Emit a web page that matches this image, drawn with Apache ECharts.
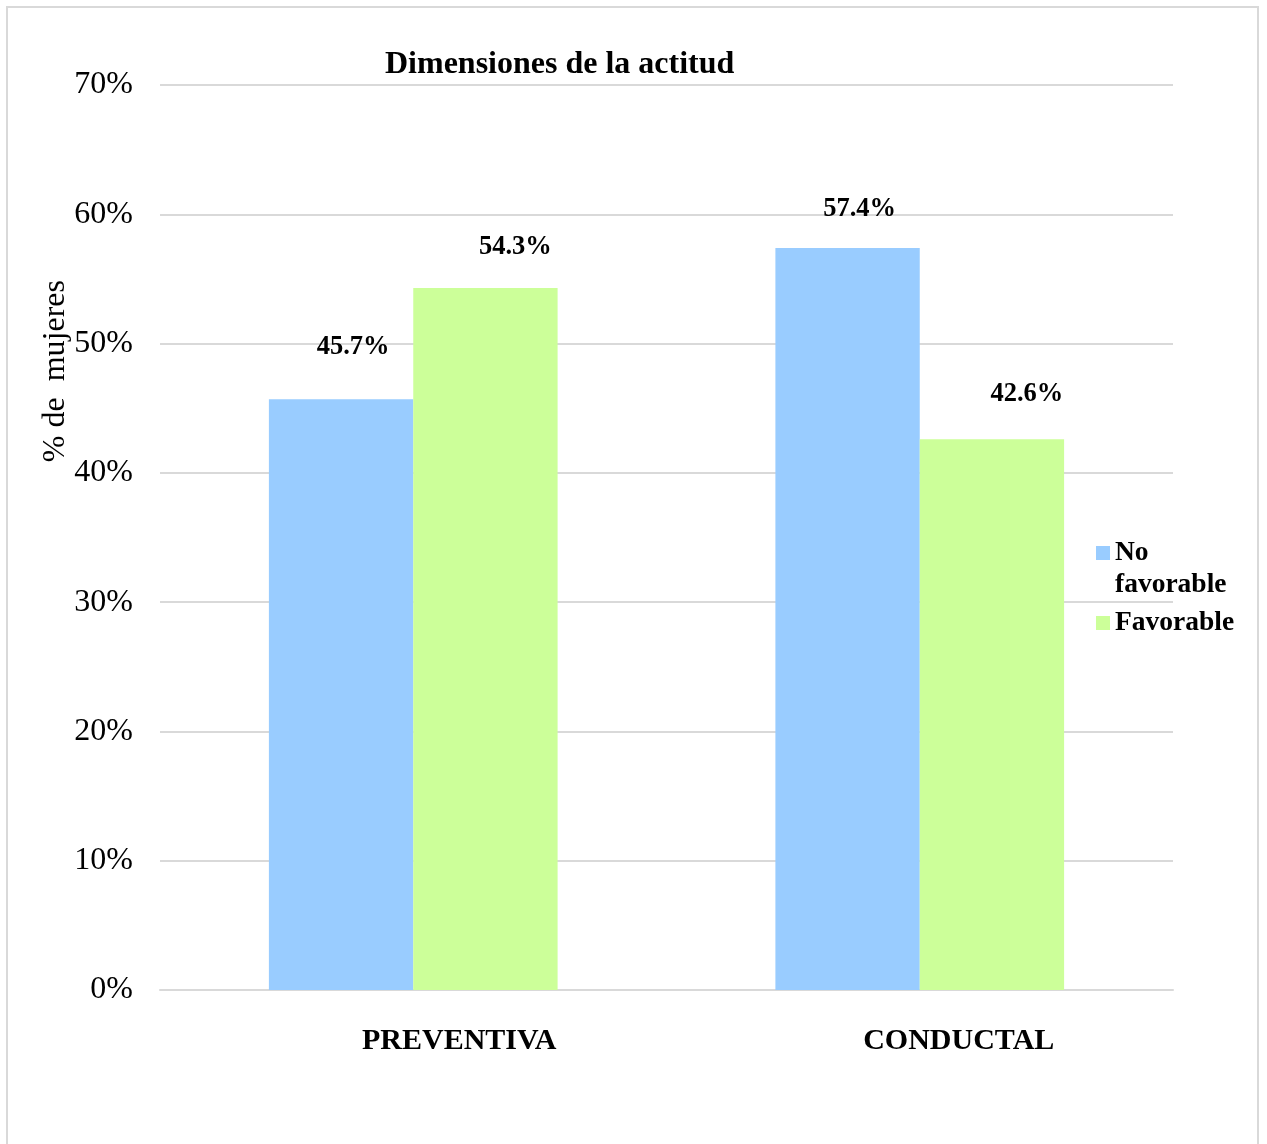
<!DOCTYPE html>
<html>
<head>
<meta charset="utf-8">
<script src="https://cdn.jsdelivr.net/npm/echarts@6/dist/echarts.min.js"></script>
<style>
html,body{margin:0;padding:0;background:#fff;}
#frame{position:absolute;left:6px;top:6px;width:1253px;height:1160px;border:2px solid #d9d9d9;box-sizing:border-box;}
#c{position:absolute;left:0;top:0;width:1267px;height:1144px;}
</style>
</head>
<body>
<div id="frame"></div>
<div id="c"></div>
<script>
const categories = ['PREVENTIVA', 'CONDUCTAL'];
const seriesNames = ['No favorable', 'Favorable'];
const noFavorable = [45.7, 57.4];
const favorable = [54.3, 42.6];
const yTicks = [0, 10, 20, 30, 40, 50, 60, 70];

// label nudges per series, per category
const labelOffsets = [[[12, -9], [12, 5]], [[30, 3], [35, -2]]];
const categoryLabelPad = [92, 78];
const colors = ['#99CCFF', '#CCFF99'];
const serif = '"Liberation Serif", "Times New Roman", serif';

function buildData(vals, si) {
  return vals.map((v, i) => ({ value: v, label: { offset: labelOffsets[si][i] } }));
}
const labelStyle = {
  show: true, position: 'top', distance: 30,
  formatter: p => p.value.toFixed(1) + '%',
  fontFamily: serif, fontWeight: 'bold', fontSize: 26.5, color: '#000'
};

const chart = echarts.init(document.getElementById('c'), null, { renderer: 'canvas' });
chart.setOption({
  animation: false,
  backgroundColor: 'transparent',
  title: {
    text: 'Dimensiones de la actitud',
    left: 380, top: 44,
    textStyle: { fontFamily: serif, fontWeight: 'bold', fontSize: 32, color: '#000' }
  },
  legend: {
    orient: 'vertical',
    left: 1096, top: 505,
    padding: 0,
    itemWidth: 14, itemHeight: 14, itemGap: 6,
    icon: 'rect',
    data: seriesNames,
    // wrapped name: a blank first line keeps the marker level with the first visible line
    formatter: n => n.indexOf(' ') >= 0 ? '\u00a0\n' + n.replace(' ', '\n') : n,
    textStyle: { fontFamily: serif, fontWeight: 'bold', fontSize: 27.5, color: '#000', lineHeight: 32 }
  },
  graphic: [{
    type: 'text',
    left: 40, top: 280,
    rotation: Math.PI / 2,
    style: { text: '% de  mujeres', font: '32px ' + serif, fill: '#000' }
  }],
  grid: { left: 160, right: 94, top: 85, bottom: 154 },
  xAxis: {
    type: 'category',
    data: categories.map((c, i) => ({ value: c, textStyle: { padding: [0, 0, 0, categoryLabelPad[i]] } })),
    axisLine: { lineStyle: { color: '#d9d9d9', width: 2 } },
    axisTick: { show: false },
    axisLabel: { fontFamily: serif, fontWeight: 'bold', fontSize: 30, color: '#000', margin: 36 }
  },
  yAxis: {
    type: 'value',
    min: yTicks[0], max: yTicks[yTicks.length - 1], interval: 10,
    axisLine: { show: false },
    axisTick: { show: false },
    splitLine: { lineStyle: { color: '#d9d9d9', width: 2 } },
    axisLabel: { formatter: '{value}%', fontFamily: serif, fontSize: 32, color: '#000', margin: 27 }
  },
  series: [
    { name: seriesNames[0], type: 'bar', data: buildData(noFavorable, 0), itemStyle: { color: colors[0] },
      barGap: '0%', barCategoryGap: '43%', label: labelStyle },
    { name: seriesNames[1], type: 'bar', data: buildData(favorable, 1), itemStyle: { color: colors[1] },
      barGap: '0%', barCategoryGap: '43%', label: labelStyle }
  ]
});
</script>
</body>
</html>
